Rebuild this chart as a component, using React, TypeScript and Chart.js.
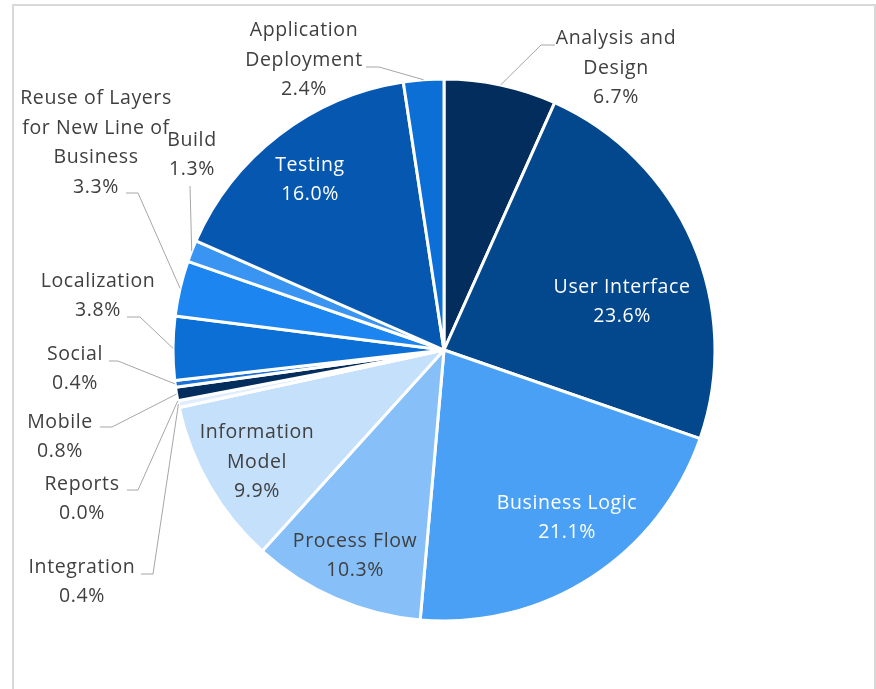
import React, { useEffect, useRef } from "react";
import { Chart, registerables } from "chart.js";

Chart.register(...registerables);

const categories = [
  "Analysis and\nDesign",
  "User Interface",
  "Business Logic",
  "Process Flow",
  "Information\nModel",
  "Integration",
  "Reports",
  "Mobile",
  "Social",
  "Localization",
  "Reuse of Layers\nfor New Line of\nBusiness",
  "Build",
  "Testing",
  "Application\nDeployment",
];

const shares = [6.7, 23.6, 21.1, 10.3, 9.9, 0.4, 0.0, 0.8, 0.4, 3.8, 3.3, 1.3, 16.0, 2.4];

const sliceColors = [
  "#022d5c",
  "#03478d",
  "#4aa0f5",
  "#87bff8",
  "#c4e0fb",
  "#dfedfc",
  "#9cc9f7",
  "#022d5c",
  "#1a72d8",
  "#0b6fd6",
  "#1c85ef",
  "#3a95f2",
  "#0557b0",
  "#0b6fd6",
];

// label placement (text block centre) and leader-line start/elbow points
type Layout = { x: number; y: number; color: string; leader?: number[][] };
const labelLayout: Layout[] = [
  { x: 616, y: 68, color: "#404040", leader: [[555, 45], [541, 45]] },
  { x: 622, y: 302, color: "#ffffff" },
  { x: 567, y: 518, color: "#ffffff" },
  { x: 355, y: 556, color: "#404040" },
  { x: 257, y: 462, color: "#404040" },
  { x: 82, y: 582, color: "#404040", leader: [[141, 574], [153, 574]] },
  { x: 82, y: 499, color: "#404040", leader: [[127, 490], [138, 490]] },
  { x: 60, y: 437, color: "#404040", leader: [[100, 427], [112, 427]] },
  { x: 75, y: 369, color: "#404040", leader: [[109, 361], [118, 361]] },
  { x: 98, y: 296, color: "#404040", leader: [[127, 317], [140, 317]] },
  { x: 96, y: 143, color: "#404040", leader: [[126, 193], [138, 193]] },
  { x: 192, y: 155, color: "#404040", leader: [[190, 186]] },
  { x: 310, y: 180, color: "#ffffff" },
  { x: 304, y: 60, color: "#404040", leader: [[366, 67], [379, 67]] },
];

const FONT = "19.5px 'Open Sans', Lato, sans-serif";
const LINE_H = 29.5;

const labelPlugin = {
  id: "sliceLabels",
  beforeDraw(chart: any) {
    const ctx = chart.ctx;
    ctx.save();
    ctx.strokeStyle = "#d9d9d9";
    ctx.lineWidth = 2;
    ctx.strokeRect(13, 5, 862, 700);
    ctx.restore();
  },
  afterDatasetsDraw(chart: any) {
    const ctx = chart.ctx;
    const meta = chart.getDatasetMeta(0);
    ctx.save();
    meta.data.forEach((arc: any, i: number) => {
      const lay = labelLayout[i];
      if (!lay) return;
      const p = arc.getProps(["x", "y", "startAngle", "endAngle", "outerRadius"], true);
      if (lay.leader) {
        const mid = (p.startAngle + p.endAngle) / 2;
        const ex = p.x + Math.cos(mid) * p.outerRadius;
        const ey = p.y + Math.sin(mid) * p.outerRadius;
        ctx.beginPath();
        ctx.strokeStyle = "#a6a6a6";
        ctx.lineWidth = 1;
        lay.leader.forEach((pt, k) => {
          if (k === 0) ctx.moveTo(pt[0], pt[1]);
          else ctx.lineTo(pt[0], pt[1]);
        });
        ctx.lineTo(ex, ey);
        ctx.stroke();
      }
      const lines = (categories[i] + "\n" + shares[i].toFixed(1) + "%").split("\n");
      ctx.font = FONT;
      (ctx as any).letterSpacing = "0.6px";
      ctx.fillStyle = lay.color;
      ctx.textAlign = "center";
      ctx.textBaseline = "middle";
      const top = lay.y - ((lines.length - 1) * LINE_H) / 2;
      lines.forEach((ln, k) => ctx.fillText(ln, lay.x, top + k * LINE_H));
    });
    ctx.restore();
  },
};

export default function App() {
  const ref = useRef<HTMLCanvasElement>(null);
  useEffect(() => {
    if (!ref.current) return;
    const chart = new Chart(ref.current, {
      type: "pie",
      data: {
        labels: categories,
        datasets: [
          {
            data: shares,
            backgroundColor: sliceColors,
            borderColor: "#ffffff",
            borderWidth: 3,
          },
        ],
      },
      options: {
        responsive: false,
        animation: false,
        radius: 271,
        layout: { padding: { left: 173, right: 161, top: 79, bottom: 68 } },
        plugins: {
          legend: { display: false },
          tooltip: { enabled: false },
        },
      },
      plugins: [labelPlugin],
    });
    return () => chart.destroy();
  }, []);
  return (
    <div style={{ position: "fixed", left: 0, top: 0, width: 876, height: 689, background: "#fff" }}>
      <canvas ref={ref} width={876} height={689} />
    </div>
  );
}
